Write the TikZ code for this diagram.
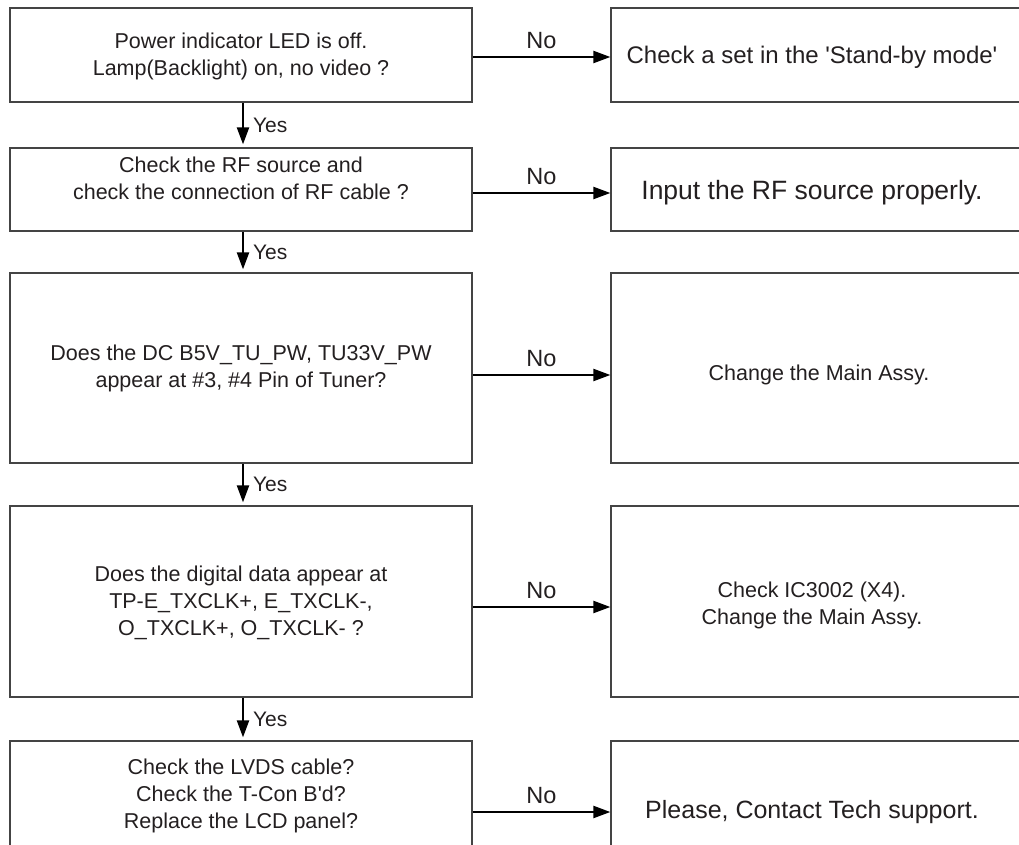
\documentclass[tikz,border=0pt]{standalone}
\usepackage{fontspec}
\setmainfont{Liberation Sans}
\usetikzlibrary{arrows.meta,positioning}

\begin{document}
\begin{tikzpicture}[x=1pt, y=-1pt, >={Triangle[length=17pt,width=12pt]},
    chkbox/.style={draw=boxCol, line width=1.3pt, inner sep=0pt},
    leftbox/.style={chkbox, minimum width=462pt},
    rightbox/.style={chkbox, minimum width=414pt},
    txt/.style={text=txtCol, align=center, font=\fontsize{21.5}{27}\selectfont},
    bigtxt/.style={txt, font=\fontsize{25}{30}\selectfont},
    flow/.style={->, line width=2.2pt, draw=black},
    lbl/.style={text=txtCol, font=\fontsize{21}{27}\selectfont, inner sep=0pt},
    nolbl/.style={lbl, font=\fontsize{23.5}{28}\selectfont}]
    % Colors
    \definecolor{boxCol}{HTML}{444444}
    \definecolor{txtCol}{HTML}{231F20}

    \useasboundingbox (0,0) rectangle (1019,845);

    % Left column: checks
    \node[leftbox, minimum height=94pt]  (q1) at (241,55) {};
    \node[leftbox, minimum height=83pt]  (q2) at (241,189.5) {};
    \node[leftbox, minimum height=190pt] (q3) at (241,368) {};
    \node[leftbox, minimum height=191pt] (q4) at (241,601.5) {};
    \node[leftbox, minimum height=142pt] (q5) at (241,812) {};

    \node[txt] (t1) at (241,56) {Power indicator LED is off.\\Lamp(Backlight) on, no video ?};
    \node[txt] (t2) at (241,178) {Check the RF source and\\check the connection of RF cable ?};
    \node[txt] (t3) at (241,368) {Does the DC B5V\_TU\_PW, TU33V\_PW\\appear at \#3, \#4 Pin of Tuner?};
    \node[txt] (t4) at (241,603) {Does the digital data appear at\\TP-E\_TXCLK+, E\_TXCLK-,\\O\_TXCLK+, O\_TXCLK- ?};
    \node[txt] (t5) at (241,796) {Check the LVDS cable?\\Check the T-Con B\textquotesingle d?\\Replace the LCD panel?};

    % Right column: actions
    \node[rightbox, minimum height=94pt]  (r1) at (818,55) {};
    \node[rightbox, minimum height=83pt]  (r2) at (818,189.5) {};
    \node[rightbox, minimum height=190pt] (r3) at (818,368) {};
    \node[rightbox, minimum height=191pt] (r4) at (818,601.5) {};
    \node[rightbox, minimum height=142pt] (r5) at (818,812) {};

    \node[bigtxt, font=\fontsize{24}{29}\selectfont] (a1) at (812,57) {Check a set in the \textquotesingle Stand-by mode\textquotesingle};
    \node[bigtxt, font=\fontsize{26.5}{31}\selectfont] (a2) at (812,193) {Input the RF source properly.};
    \node[txt] (a3) at (819,375) {Change the Main Assy.};
    \node[txt] (a4) at (812,605) {Check IC3002 (X4).\\Change the Main Assy.};
    \node[bigtxt] (a5) at (812,812) {Please, Contact Tech support.};

    % No branches
    \draw[flow] ([yshift=-2pt]q1.east) -- ([yshift=-2pt]r1.west) node[nolbl, midway, above=7pt] {No};
    \draw[flow] ([yshift=-3.5pt]q2.east) -- ([yshift=-3.5pt]r2.west) node[nolbl, midway, above=7pt] {No};
    \draw[flow] ([yshift=-7pt]q3.east) -- ([yshift=-7pt]r3.west) node[nolbl, midway, above=7pt] {No};
    \draw[flow] ([yshift=-5.5pt]q4.east) -- ([yshift=-5.5pt]r4.west) node[nolbl, midway, above=7pt] {No};
    \draw[flow] (q5.east) -- (r5.west) node[nolbl, midway, above=7pt] {No};

    % Yes branches
    \foreach \a/\b in {q1/q2, q2/q3, q3/q4, q4/q5} {
        \draw[flow, shorten >=3pt] ([xshift=2pt]\a.south) -- ([xshift=2pt]\b.north)
            node[lbl, midway, right=9pt] {Yes};
    }
\end{tikzpicture}
\end{document}
